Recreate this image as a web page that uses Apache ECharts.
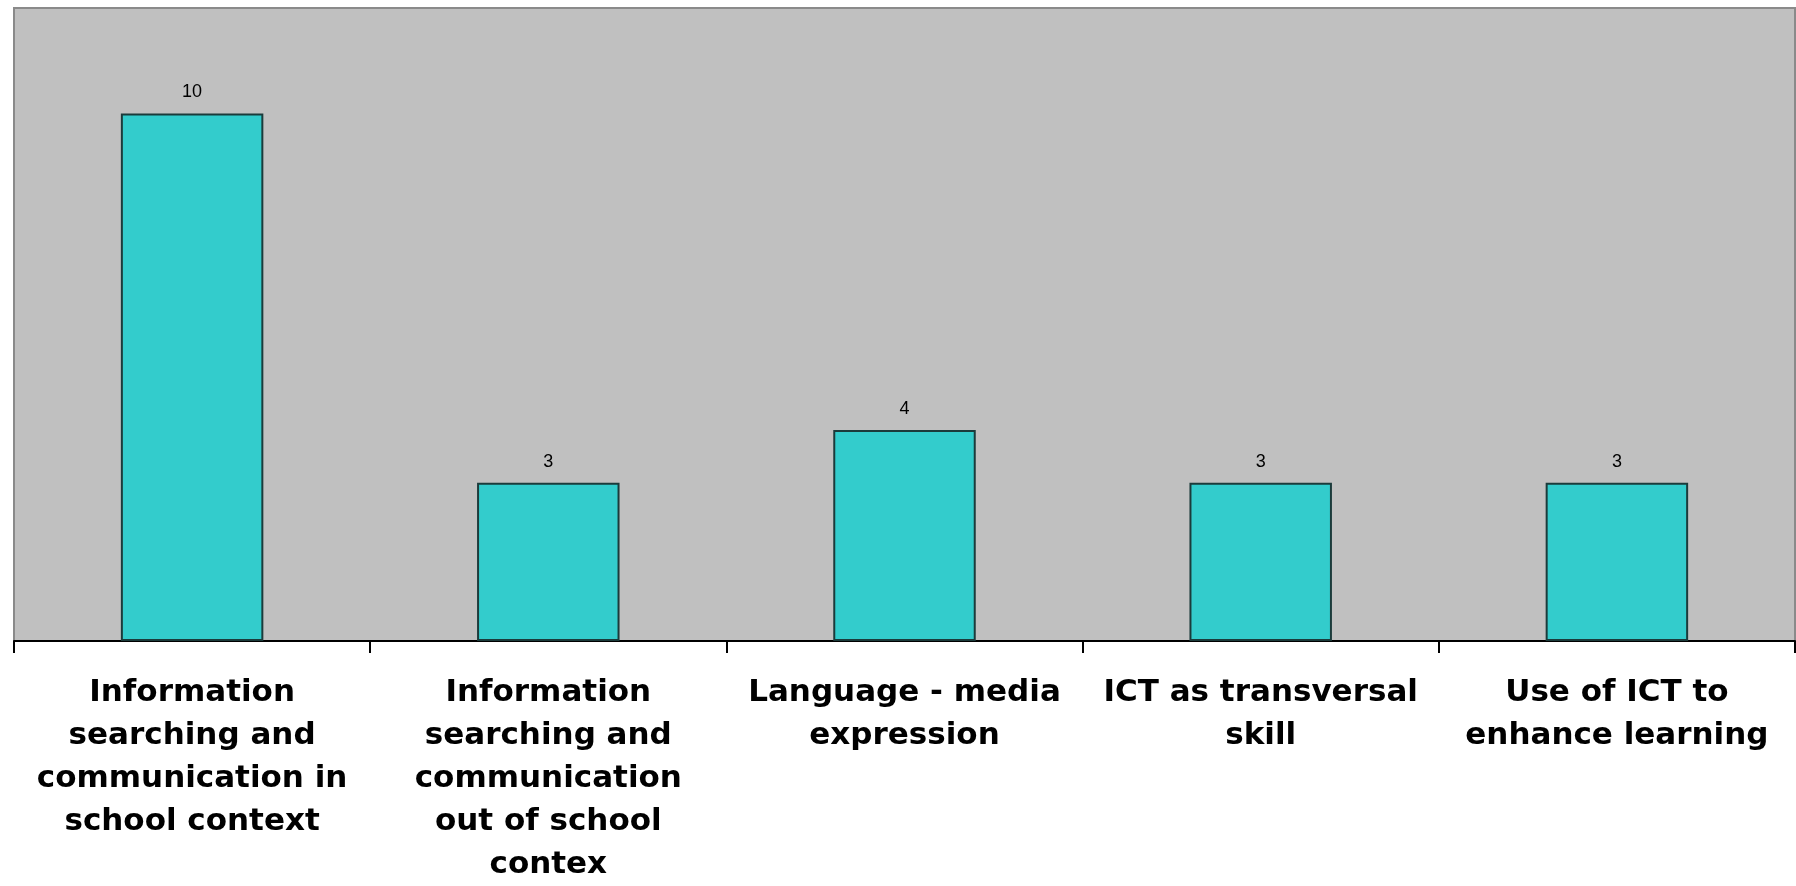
<!DOCTYPE html>
<html>
<head>
<meta charset="utf-8">
<script src="https://cdn.jsdelivr.net/npm/echarts@6/dist/echarts.min.js"></script>
<style>
html,body{margin:0;padding:0;background:#fff;}
#chart{width:1796px;height:886px;}
</style>
</head>
<body>
<div id="chart"></div>
<script>
const categories = [
  "Information\nsearching and\ncommunication in\nschool context",
  "Information\nsearching and\ncommunication\nout of school\ncontex",
  "Language - media\nexpression",
  "ICT as transversal\nskill",
  "Use of ICT to\nenhance learning"
];
const values = [10, 3, 4, 3, 3];

const chart = echarts.init(document.getElementById('chart'), null, {renderer: 'canvas'});
chart.setOption({
  animation: false,
  backgroundColor: '#ffffff',
  grid: {
    left: 14, right: 1, top: 8, bottom: 239,
    show: true,
    backgroundColor: '#C0C0C0',
    borderColor: '#8a8a8a',
    borderWidth: 2
  },
  xAxis: {
    type: 'category',
    data: categories,
    boundaryGap: true,
    axisLine: {show: true, lineStyle: {color: '#000', width: 2}},
    axisTick: {show: true, alignWithLabel: false, interval: 0, length: 12, lineStyle: {color: '#000', width: 2}},
    axisLabel: {
      interval: 0,
      margin: 30,
      color: '#000',
      fontFamily: 'DejaVu Sans',
      fontWeight: 'bold',
      fontSize: 31,
      lineHeight: 43,
      align: 'center'
    },
    splitLine: {show: false}
  },
  yAxis: {
    type: 'value',
    min: 0, max: 12, interval: 2,
    show: false,
    splitLine: {show: false}
  },
  series: [{
    type: 'bar',
    data: values,
    barWidth: '40%',
    itemStyle: {color: '#33CCCC', borderColor: '#1b3b3b', borderWidth: 2},
    label: {
      show: true,
      position: 'top',
      distance: 12,
      color: '#000',
      fontFamily: 'Liberation Sans',
      fontSize: 18
    }
  }]
});
</script>
</body>
</html>
